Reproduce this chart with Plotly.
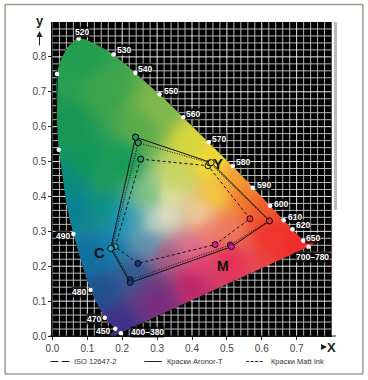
import base64, struct, zlib
import numpy as np
import plotly.graph_objects as go

W, H = 368, 380
L, R, T, B = 49.5, 334.0, 22.0, 336.0

# spectrum locus
locus_x = [.013,.011,.0135,.018,.026,.035,.041,.060,.081,.109,.150,.180,.196,.734,.719,.688,.663,.624,.574,.517,.448,.375,.307,.238,.175,.142,.105,.075,.058,.039,.022]
locus_y = [.751,.676,.600,.534,.476,.418,.370,.292,.218,.132,.052,.021,.008,.256,.273,.306,.332,.373,.425,.487,.555,.627,.693,.754,.807,.827,.846,.853,.843,.821,.786]

# wavelength points
wl_labels = ["520","530","540","550","560","570","580","590","600","610","620","650","700–780","400–380","450","470","480","490",None,None]
wl_x = [.075,.175,.238,.307,.375,.448,.517,.574,.624,.663,.688,.719,.734,.196,.180,.150,.109,.060,.018,.013]
wl_y = [.853,.807,.754,.693,.627,.555,.487,.425,.373,.332,.306,.273,.256,.008,.021,.052,.132,.292,.534,.751]
wl_shift_x = [3,10,10,11,10,10,10,11,11,11,11,10,4,27,-12,-11,-11,-10,0,0]
wl_shift_y = [6,4,4,3,3,3,4,3,2,3,4,3,-10,1,-2,-1,-2,-2,0,0]

# ink gamuts: G, Y, R, M, B, C
aronor_x = [.238,.455,.622,.513,.223,.167]
aronor_y = [.570,.497,.330,.256,.153,.251]
iso_x = [.246,.451,.621,.510,.223,.170]
iso_y = [.554,.496,.330,.261,.161,.252]
matt_x = [.253,.446,.566,.466,.245,.180]
matt_y = [.507,.488,.336,.262,.208,.256]
ink_colors = ["#1f9a60","#e8d030","#f03030","#e0189a","#20308a","#30a0c0"]

x_ticks = [0,.1,.2,.3,.4,.5,.6,.7]
y_ticks = [0,.1,.2,.3,.4,.5,.6,.7,.8]
grid_minor = [.02,.04,.06,.08,.12,.14,.16,.18,.22,.24,.26,.28,.32,.34,.36,.38,.42,.44,.46,.48,.52,.54,.56,.58,.62,.64,.66,.68,.72,.74,.76,.78,.82,.84,.86,.88]

# colour samples
col_x = [.08,.05,.15,.2,.3,.25,.15,.094,.05,.066,.142,.114,.142,.19,.235,.283,.33,.17,.3,.4,.5,.62,.7,.55,.5,.45,.4,.325,.24,.4,.28,.27,.35,.42,.54,.6,.2,.47,.283,.45,.33,.42]
col_y = [.8,.6,.7,.5,.65,.6,.45,.5,.44,.37,.37,.227,.132,.037,.18,.132,.227,.25,.1,.15,.22,.3,.27,.4,.3,.5,.55,.345,.33,.25,.4,.27,.45,.2,.447,.36,.33,.404,.327,.3,.4,.35]
col_r = [36,24,60,18,130,90,30,16,10,10,10,15,32,64,47,106,168,15,125,190,230,240,240,240,240,245,216,232,64,224,112,90,200,225,244,240,15,246,200,240,232,240]
col_g = [158,150,165,155,185,170,155,152,138,127,143,111,80,48,90,58,90,125,40,35,45,50,45,115,120,220,216,225,160,112,192,144,216,60,160,90,144,200,216,128,228,208]
col_b = [80,85,75,85,75,75,90,88,128,149,133,160,143,138,144,128,128,175,125,105,85,45,45,40,90,50,60,205,176,144,128,176,96,110,53,45,184,56,200,112,160,160]


def dense_curve(px, py, n=8):
    # smooth curve through the read points, leaving the purple line straight
    pts = np.column_stack([px, py])
    out = []
    m = len(pts)
    for i in range(m):
        p0, p1, p2, p3 = pts[(i-1) % m], pts[i], pts[(i+1) % m], pts[(i+2) % m]
        if i == 12:
            out.append(p1)
            continue
        for t in np.linspace(0, 1, n, endpoint=False):
            out.append(0.5*((2*p1)+(-p0+p2)*t+(2*p0-5*p1+4*p2-p3)*t*t+(-p0+3*p1-3*p2+p3)*t**3))
    return np.array(out)


poly = dense_curve(locus_x, locus_y)
dx = 0.8/(R-L)
dy = 0.9/(B-T)
nx, ny = int(round(R-L)), int(round(B-T))
cx = (np.arange(nx)+.5)*dx
cy = (np.arange(ny)+.5)*dy
CX, CY = np.meshgrid(cx, cy)
d2 = (CX[..., None]-np.array(col_x))**2+(CY[..., None]-np.array(col_y))**2+0.0015
wgt = d2**-2.0
wgt /= wgt.sum(axis=-1, keepdims=True)
img = np.full((ny, nx, 4), 255, dtype=np.uint8)
for k, c in enumerate([col_r, col_g, col_b]):
    img[..., k] = np.clip((wgt*np.array(c, float)).sum(axis=-1), 0, 255).astype(np.uint8)


def png_uri(a):
    h, w = a.shape[:2]

    def chunk(t, d):
        return struct.pack(">I", len(d))+t+d+struct.pack(">I", zlib.crc32(t+d) & 0xffffffff)
    raw = b"".join(b"\x00"+a[i].tobytes() for i in range(h))
    data = b"\x89PNG\r\n\x1a\n"+chunk(b"IHDR", struct.pack(">IIBBBBB", w, h, 8, 6, 0, 0, 0))+chunk(b"IDAT", zlib.compress(raw))+chunk(b"IEND", b"")
    return "data:image/png;base64,"+base64.b64encode(data).decode()


fig = go.Figure()
fig.add_trace(go.Image(source=png_uri(img), x0=cx[0], y0=cy[0], dx=dx, dy=dy, hoverinfo="skip"))

# black field with the locus cut out of it (the locus runs the opposite way round)
XMAX, YMAX = .8, .9
rev = poly[::-1]
mask_x = [0, XMAX, XMAX, 0, 0]+[float(v) for v in rev[:, 0]]+[float(rev[0, 0]), 0]
mask_y = [0, 0, YMAX, YMAX, 0]+[float(v) for v in rev[:, 1]]+[float(rev[0, 1]), 0]
fig.add_trace(go.Scatter(x=mask_x, y=mask_y, mode="lines", fill="toself", fillcolor="black",
                         line=dict(width=0, color="black"), hoverinfo="skip", showlegend=False))


def crossings(u, a, b, c, d):
    out = []
    for p, q, r, s in zip(a, b, c, d):
        if (p > u) != (r > u):
            out.append(q+(u-p)*(s-q)/(r-p))
    return sorted(out)


xa, ya = poly[:, 0], poly[:, 1]
xb, yb = np.roll(xa, -1), np.roll(ya, -1)


def grid_trace(values, color, width):
    gxs, gys = [], []
    for v in values:
        if v < XMAX:
            cr = [0.0]+crossings(v, xa, ya, xb, yb)+[YMAX]
            for i in range(0, len(cr)-1, 2):
                gxs += [v, v, None]
                gys += [float(cr[i]), float(cr[i+1]), None]
        if v < YMAX:
            cr = [0.0]+crossings(v, ya, xa, yb, xb)+[XMAX]
            for i in range(0, len(cr)-1, 2):
                gxs += [float(cr[i]), float(cr[i+1]), None]
                gys += [v, v, None]
    fig.add_trace(go.Scatter(x=gxs, y=gys, mode="lines", line=dict(color=color, width=width),
                             hoverinfo="skip", showlegend=False))


grid_trace(grid_minor, "#b8b8b8", 1)
grid_trace(y_ticks[1:], "#eeeeee", 1)


def gamut(xs, ys, dash):
    fig.add_trace(go.Scatter(x=xs+xs[:1], y=ys+ys[:1], mode="lines+markers", showlegend=False,
                             line=dict(color="#111", width=1, dash=dash),
                             marker=dict(size=6, color=ink_colors+ink_colors[:1], line=dict(color="#111", width=1))))


gamut(matt_x, matt_y, "3px,2.5px")
gamut(iso_x, iso_y, "1px,1.5px")
gamut(aronor_x, aronor_y, "solid")

fig.add_trace(go.Scatter(x=wl_x, y=wl_y, mode="markers", showlegend=False,
                         marker=dict(size=4.5, color="white")))


def px(x):
    return (x-L)/(R-L)


def py(y):
    return (B-y)/(B-T)


def note(xx, yy, text, font, xanchor="center"):
    return dict(x=px(xx), y=py(yy), xref="paper", yref="paper", xanchor=xanchor, yanchor="middle",
                text=text, showarrow=False, font=font)


ann = []
for lab, x, y, sx, sy in zip(wl_labels, wl_x, wl_y, wl_shift_x, wl_shift_y):
    if lab:
        ann.append(dict(x=x, y=y, xref="x", yref="y", text="<b>%s</b>" % lab, showarrow=False, xshift=sx, yshift=sy,
                        xanchor="center", yanchor="middle", bgcolor="rgba(0,0,0,0.7)", borderpad=0,
                        font=dict(family="Liberation Sans", size=8.5, color="white")))
for lab, xx, yy, sz in [("Y", 218, 163, 15), ("C", 99, 253, 15), ("M", 223, 266, 14)]:
    ann.append(note(xx, yy, "<b>%s</b>" % lab, dict(family="Liberation Sans Narrow, Liberation Sans", size=sz, color="#111")))
for lab, xx, yy in [("y", 39.5, 21), ("X", 331, 347)]:
    ann.append(note(xx, yy, "<b>%s</b>" % lab, dict(family="Liberation Sans", size=13, color="#222")))
for a, b, c, d in [(39, 47, 39, 31), (320, 347, 327, 347)]:
    ann.append(dict(x=px(c), y=py(d), ax=a-c, ay=b-d, xref="paper", yref="paper", axref="pixel", ayref="pixel",
                    text="", showarrow=True, arrowhead=2, arrowsize=1.2, arrowwidth=1, arrowcolor="#222"))
for lab, xx in [("ISO 12647-2", 72), ("Краски Aronor-T", 164.5), ("Краски Matt Ink", 268.5)]:
    ann.append(note(xx, 361.5, lab, dict(family="Liberation Sans", size=7.5, color="#333"), "left"))

shapes = [
    dict(type="rect", xref="paper", yref="paper", x0=px(334), x1=px(337), y0=py(22), y1=py(210),
         line=dict(width=0), fillcolor="#bbbbbb"),
    dict(type="line", xref="paper", yref="paper", x0=px(49), x1=px(336), y0=0, y1=0, line=dict(color="#111", width=1)),
]
for a, b, c, d in [(4.5, 4.5, 363, 4.5), (4.5, 374, 363, 374), (4.5, 4.5, 4.5, 374), (363, 4.5, 363, 374)]:
    shapes.append(dict(type="line", xref="paper", yref="paper", x0=px(a), x1=px(c), y0=py(b), y1=py(d),
                       line=dict(color="#9c9c8c", width=1.5)))
for a, b, dash in [(50, 70.5, "8px,3px"), (144, 161.5, "solid"), (246, 264, "3px,1.5px")]:
    shapes.append(dict(type="line", xref="paper", yref="paper", x0=px(a), x1=px(b), y0=py(361.5), y1=py(361.5),
                       line=dict(color="#222", width=1, dash=dash)))

tfont = dict(family="Liberation Sans", size=10, color="#444")
axis_common = dict(showgrid=False, zeroline=False, showline=True, linecolor="#111", linewidth=1,
                   ticks="outside", ticklen=3, tickcolor="#222", tickfont=tfont, tickformat=".1f")
fig.update_layout(
    template="none",
    width=W, height=H, paper_bgcolor="white", plot_bgcolor="#000000", showlegend=False,
    margin=dict(l=L, r=W-R, t=T, b=H-B), annotations=ann, shapes=shapes,
    xaxis=dict(range=[0, XMAX], tickvals=x_ticks, **axis_common),
    yaxis=dict(range=[0, YMAX], tickvals=y_ticks, **axis_common),
)
fig.write_html("out.html", post_script="document.body.style.margin='0';", config={"displayModeBar": False})
